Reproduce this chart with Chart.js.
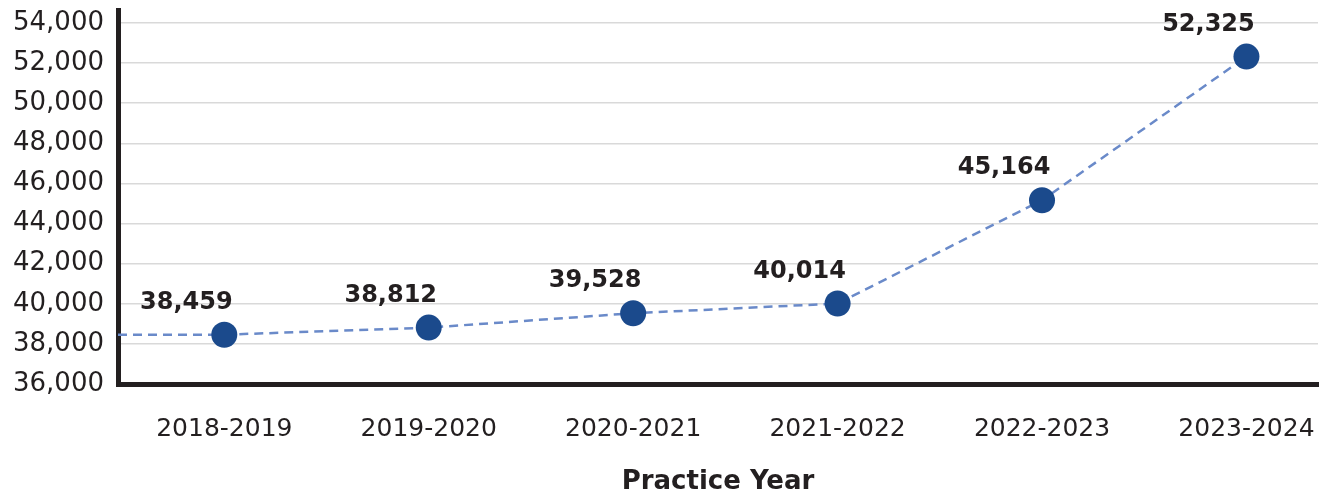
<!DOCTYPE html>
<html>
<head>
<meta charset="utf-8">
<script src="https://cdn.jsdelivr.net/npm/chart.js@4.4.1/dist/chart.umd.min.js"></script>
<style>
html, body { margin: 0; padding: 0; background: #fff; overflow: hidden; }
</style>
</head>
<body>
<canvas id="myChart" width="1325" height="495"></canvas>
<script>
var years = ['2018-2019', '2019-2020', '2020-2021', '2021-2022', '2022-2023', '2023-2024'];
var members = [38459, 38812, 39528, 40014, 45164, 52325];
var yTicks = [36000, 38000, 40000, 42000, 44000, 46000, 48000, 50000, 52000, 54000];

var textColor = '#231f20';
var lineColor = '#6a8ac9';
var dotColor = '#1b4a8c';
var fontName = '"DejaVu Sans", sans-serif';

// dashed stub from the y axis to the first point
var leadLine = {
    id: 'leadLine',
    beforeDatasetsDraw: function (chart) {
        var pt = chart.getDatasetMeta(0).data[0];
        var ctx = chart.ctx;
        ctx.save();
        ctx.strokeStyle = lineColor;
        ctx.lineWidth = 2.5;
        ctx.setLineDash([9, 6]);
        ctx.beginPath();
        ctx.moveTo(chart.chartArea.left, pt.y);
        ctx.lineTo(pt.x, pt.y);
        ctx.stroke();
        ctx.restore();
    }
};

var valueLabels = {
    id: 'valueLabels',
    afterDatasetsDraw: function (chart) {
        var ctx = chart.ctx;
        var meta = chart.getDatasetMeta(0);
        ctx.save();
        ctx.font = 'bold 24px ' + fontName;
        ctx.fillStyle = textColor;
        ctx.textAlign = 'center';
        ctx.textBaseline = 'middle';
        meta.data.forEach(function (pt, i) {
            ctx.fillText(members[i].toLocaleString('en-US'), pt.x - 38, pt.y - 32);
        });
        ctx.restore();
    }
};

function createChart() {
    var ctx = document.getElementById('myChart').getContext('2d');
    new Chart(ctx, {
        type: 'line',
        data: {
            datasets: [{
                data: members.map(function (v, i) { return { x: i, y: v }; }),
                borderColor: lineColor,
                borderWidth: 2.5,
                borderDash: [9, 6],
                pointRadius: 13,
                pointHoverRadius: 13,
                pointBackgroundColor: dotColor,
                pointBorderWidth: 0,
                tension: 0,
                clip: false
            }]
        },
        options: {
            responsive: false,
            animation: false,
            layout: { autoPadding: false, padding: { top: 10, right: 7, left: 0, bottom: -3 } },
            plugins: { legend: { display: false }, tooltip: { enabled: false } },
            scales: {
                x: {
                    type: 'linear',
                    min: -0.52,
                    max: 5.35,
                    afterBuildTicks: function (scale) {
                        scale.ticks = years.map(function (c, i) { return { value: i }; });
                    },
                    afterFit: function (scale) {
                        scale.height = 114;
                        scale.paddingLeft = 0;
                        scale.paddingRight = 0;
                    },
                    grid: { display: false },
                    border: { color: textColor, width: 5 },
                    ticks: {
                        callback: function (v) { return years[v]; },
                        font: { family: fontName, size: 25 },
                        color: textColor,
                        padding: 22,
                        maxRotation: 0
                    },
                    title: {
                        display: true,
                        text: 'Practice Year',
                        font: { family: fontName, size: 26, weight: 'bold' },
                        color: textColor,
                        padding: { top: 0, bottom: 0 }
                    }
                },
                y: {
                    min: 36000,
                    max: 54650,
                    afterBuildTicks: function (scale) {
                        scale.ticks = yTicks.map(function (v) { return { value: v }; });
                    },
                    afterFit: function (scale) {
                        scale.width = 118;
                        scale.paddingTop = 0;
                        scale.paddingBottom = 0;
                    },
                    grid: { color: '#d9d9d9', lineWidth: 1.5, drawTicks: false },
                    border: { color: textColor, width: 5 },
                    ticks: {
                        callback: function (v) { return v.toLocaleString('en-US'); },
                        font: { family: fontName, size: 26 },
                        color: textColor,
                        padding: 14
                    }
                }
            }
        },
        plugins: [leadLine, valueLabels]
    });
}

document.addEventListener('DOMContentLoaded', function () {
    createChart();
});
</script>
</body>
</html>
